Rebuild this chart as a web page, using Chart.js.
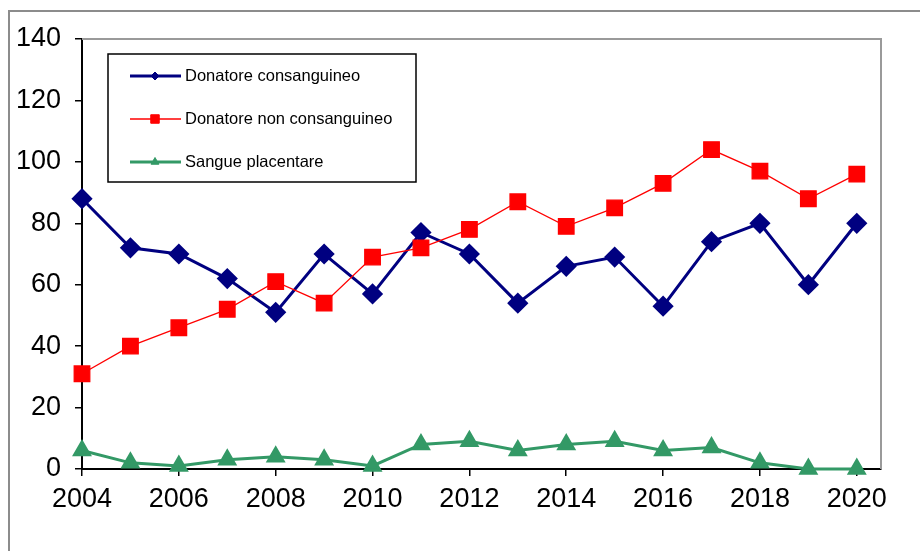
<!DOCTYPE html>
<html><head><meta charset="utf-8">
<script src="https://cdn.jsdelivr.net/npm/chart.js@4.4.1/dist/chart.umd.min.js"></script>
<style>
html,body{margin:0;padding:0;background:#fff;}
#wrap{position:relative;width:920px;height:551px;overflow:hidden;background:#fff;}
#frame{position:absolute;left:8px;top:10px;width:1000px;height:1000px;border-left:2px solid #8c8c8c;border-top:2px solid #8c8c8c;pointer-events:none;}
canvas{position:absolute;left:0;top:0;}
</style></head><body>
<div id="wrap"><div id="frame"></div><canvas id="c" width="920" height="551"></canvas></div>
<script>
const years = [2004,2005,2006,2007,2008,2009,2010,2011,2012,2013,2014,2015,2016,2017,2018,2019,2020];
const consanguineo = [88,72,70,62,51,70,57,77,70,54,66,69,53,74,80,60,80];
const nonConsanguineo = [31,40,46,52,61,54,69,72,78,87,79,85,93,104,97,88,96];
const placentare = [6,2,1,3,4,3,1,8,9,6,8,9,6,7,2,0,0];
const xTickYears = [2004,2006,2008,2010,2012,2014,2016,2018,2020];
const yTicks = [0,20,40,60,80,100,120,140];
const seriesNames = ['Donatore consanguineo','Donatore non consanguineo','Sangue placentare'];

const pts = arr => arr.map((v,i)=>({x: years[i], y: v}));
const FONT = '"Liberation Sans Narrow", "Arial Narrow", "Liberation Sans", Arial, sans-serif';
const LFONT = '"Liberation Sans", Arial, sans-serif';

const frameLines = {
  id: 'frameLines',
  beforeDatasetsDraw(chart){
    const {ctx, chartArea:a} = chart;
    ctx.save();
    ctx.strokeStyle = '#9a9a9a'; ctx.lineWidth = 2;
    ctx.beginPath(); ctx.moveTo(a.left, a.top); ctx.lineTo(a.right, a.top); ctx.lineTo(a.right, a.bottom); ctx.stroke();
    ctx.restore();
  }
};

const boxLegend = {
  id: 'boxLegend',
  afterDraw(chart){
    const {ctx, chartArea:a} = chart;
    const x0 = a.left + 26, y0 = a.top + 15, w = 308, h = 128;
    ctx.save();
    ctx.fillStyle = '#fff'; ctx.fillRect(x0, y0, w, h);
    ctx.strokeStyle = '#000'; ctx.lineWidth = 1.5; ctx.strokeRect(x0, y0, w, h);
    chart.data.datasets.forEach((ds, i) => {
      const y = y0 + 22 + i * 43;
      ctx.strokeStyle = ds.borderColor; ctx.lineWidth = ds.borderWidth;
      ctx.beginPath(); ctx.moveTo(x0 + 22, y); ctx.lineTo(x0 + 73, y); ctx.stroke();
      ctx.fillStyle = ds.pointBackgroundColor; ctx.strokeStyle = ds.pointBorderColor; ctx.lineWidth = 1;
      Chart.helpers.drawPoint(ctx, {pointStyle: ds.pointStyle, radius: ds.legendRadius, borderWidth: 1, rotation: 0}, x0 + 47, y);
      ctx.fillStyle = '#000'; ctx.font = '16.5px ' + LFONT; ctx.textBaseline = 'middle'; ctx.textAlign = 'left';
      ctx.fillText(ds.label, x0 + 77, y);
    });
    ctx.restore();
  }
};

new Chart(document.getElementById('c'), {
  type: 'line',
  data: {
    datasets: [
      {label: seriesNames[0], data: pts(consanguineo), borderColor: '#000080', backgroundColor: '#000080',
       pointBackgroundColor: '#000080', pointBorderColor: '#000080', borderWidth: 3, pointStyle: 'rectRot',
       pointRadius: 8.5, legendRadius: 4, order: 3, clip: false},
      {label: seriesNames[1], data: pts(nonConsanguineo), borderColor: '#ff0000', backgroundColor: '#ff0000',
       pointBackgroundColor: '#ff0000', pointBorderColor: '#ff0000', borderWidth: 1.3, pointStyle: 'rect',
       pointRadius: 11, legendRadius: 6, order: 2, clip: false},
      {label: seriesNames[2], data: pts(placentare), borderColor: '#339966', backgroundColor: '#339966',
       pointBackgroundColor: '#339966', pointBorderColor: '#339966', borderWidth: 3, pointStyle: 'triangle',
       pointRadius: 8.5, legendRadius: 4.5, order: 1, clip: false}
    ]
  },
  options: {
    responsive: false, animation: false, devicePixelRatio: 1,
    layout: {padding: {top: 39, right: 39, left: 0, bottom: 0}},
    plugins: {legend: {display: false}, tooltip: {enabled: false}},
    elements: {line: {tension: 0}, point: {borderWidth: 1}},
    scales: {
      x: {
        type: 'linear', min: 2004, max: 2020.5,
        afterBuildTicks: s => { s.ticks = xTickYears.map(v => ({value: v})); },
        afterFit: s => { s.height = 82; },
        grid: {display: true, drawOnChartArea: false, drawTicks: true, tickLength: 7, color: '#000', lineWidth: 1.5},
        border: {display: true, color: '#000', width: 2},
        ticks: {color: '#000', font: {family: FONT, size: 27}, padding: 7, maxRotation: 0, autoSkip: false,
                callback: v => String(v)}
      },
      y: {
        min: 0, max: 140,
        afterBuildTicks: s => { s.ticks = yTicks.map(v => ({value: v})); },
        afterFit: s => { s.width = 82; },
        grid: {display: true, drawOnChartArea: false, drawTicks: true, tickLength: 7, color: '#000', lineWidth: 1.5},
        border: {display: true, color: '#000', width: 2},
        ticks: {color: '#000', font: {family: FONT, size: 27}, padding: 14, callback: v => String(v)}
      }
    }
  },
  plugins: [frameLines, boxLegend]
});
</script>
</body></html>
